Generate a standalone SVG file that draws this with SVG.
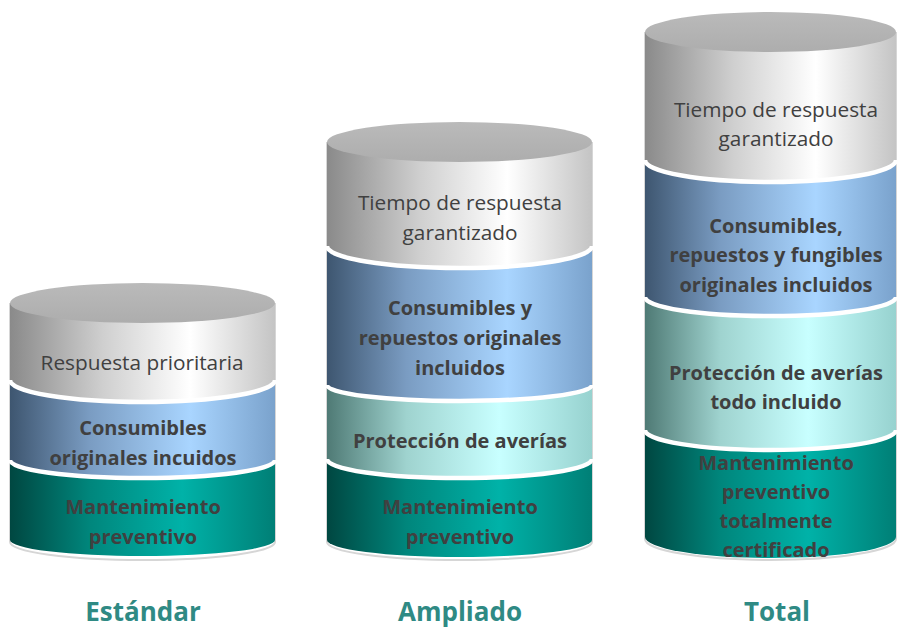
<svg xmlns="http://www.w3.org/2000/svg" width="898" height="628" viewBox="0 0 898 628">
<defs>
<linearGradient id="gGrey" x1="0" y1="0" x2="1" y2="0">
<stop offset="0" stop-color="#8a8a8a"/><stop offset="0.35" stop-color="#cfcfcf"/><stop offset="0.68" stop-color="#ffffff"/><stop offset="1" stop-color="#c4c4c4"/>
</linearGradient>
<linearGradient id="gBlue" x1="0" y1="0" x2="1" y2="0">
<stop offset="0" stop-color="#3e5670"/><stop offset="0.3" stop-color="#7a9cc2"/><stop offset="0.68" stop-color="#a9d5ff"/><stop offset="1" stop-color="#7aa2cc"/>
</linearGradient>
<linearGradient id="gAqua" x1="0" y1="0" x2="1" y2="0">
<stop offset="0" stop-color="#4f7a75"/><stop offset="0.3" stop-color="#9fd3cf"/><stop offset="0.65" stop-color="#c8ffff"/><stop offset="1" stop-color="#97d2cf"/>
</linearGradient>
<linearGradient id="gTeal" x1="0" y1="0" x2="1" y2="0">
<stop offset="0" stop-color="#004741"/><stop offset="0.3" stop-color="#00867c"/><stop offset="0.65" stop-color="#00b2a8"/><stop offset="1" stop-color="#007f76"/>
</linearGradient>
<linearGradient id="gTop" x1="0" y1="0" x2="0" y2="1">
<stop offset="0" stop-color="#bababa"/><stop offset="1" stop-color="#adadad"/>
</linearGradient>
<style>
.sep{stroke:#ffffff;stroke-width:4.5;fill:none}
.rim{fill:none;stroke:#d6d6d6;stroke-width:2}
.t{font-family:"Open Sans","Liberation Sans",sans-serif;text-anchor:middle;fill:#404040}
.n{font-size:20.8px;font-weight:400}
.b{font-size:20px;font-weight:700}
.lbl{font-family:"Open Sans","Liberation Sans",sans-serif;text-anchor:middle;font-size:26px;font-weight:700;fill:#2f8a84}
</style>
</defs>

<g id="estandar">
<path class="rim" d="M10,303 L10,542 A132.5,18 0 0 0 275,542 L275,303"/>
<g id="estandar-mantenimiento">
<path d="M10,462 L10,540 A132.5,16 0 0 0 275,540 L275,462 Z" fill="url(#gTeal)"/>
<text class="t b" x="143" y="514">Mantenimiento</text>
<text class="t b" x="143" y="544">preventivo</text>
</g>
<g id="estandar-consumibles">
<path d="M10,382 L10,460 A132.5,18 0 0 0 275,460 L275,382 Z" fill="url(#gBlue)"/>
<path class="sep" d="M10,460 A132.5,18 0 0 0 275,460"/>
<text class="t b" x="143" y="435">Consumibles</text>
<text class="t b" x="143" y="465">originales incuidos</text>
</g>
<g id="estandar-respuesta">
<path d="M10,303 L10,380 A132.5,22 0 0 0 275,380 L275,303 Z" fill="url(#gGrey)"/>
<path class="sep" d="M10,380 A132.5,22 0 0 0 275,380"/>
<ellipse cx="142.5" cy="303" rx="132.5" ry="20" fill="url(#gTop)"/>
<text class="t n" x="142" y="370">Respuesta prioritaria</text>
</g>
<text class="lbl" x="143" y="621">Estándar</text>
</g>

<g id="ampliado">
<path class="rim" d="M327,142 L327,542 A132.5,18 0 0 0 592,542 L592,142"/>
<g id="ampliado-mantenimiento">
<path d="M327,461 L327,540 A132.5,17 0 0 0 592,540 L592,461 Z" fill="url(#gTeal)"/>
<text class="t b" x="460" y="514">Mantenimiento</text>
<text class="t b" x="460" y="544">preventivo</text>
</g>
<g id="ampliado-proteccion">
<path d="M327,387 L327,459 A132.5,19 0 0 0 592,459 L592,387 Z" fill="url(#gAqua)"/>
<path class="sep" d="M327,459 A132.5,19 0 0 0 592,459"/>
<text class="t b" x="460" y="448">Protección de averías</text>
</g>
<g id="ampliado-consumibles">
<path d="M327,248 L327,385 A132.5,16 0 0 0 592,385 L592,248 Z" fill="url(#gBlue)"/>
<path class="sep" d="M327,385 A132.5,16 0 0 0 592,385"/>
<text class="t b" x="460" y="315">Consumibles y</text>
<text class="t b" x="460" y="345">repuestos originales</text>
<text class="t b" x="460" y="375">incluidos</text>
</g>
<g id="ampliado-tiempo">
<path d="M327,142 L327,246 A132.5,22 0 0 0 592,246 L592,142 Z" fill="url(#gGrey)"/>
<path class="sep" d="M327,246 A132.5,22 0 0 0 592,246"/>
<ellipse cx="459.5" cy="142" rx="132.5" ry="20" fill="url(#gTop)"/>
<text class="t n" x="460" y="210">Tiempo de respuesta</text>
<text class="t n" x="460" y="240">garantizado</text>
</g>
<text class="lbl" x="460" y="621">Ampliado</text>
</g>

<g id="total">
<path class="rim" d="M645,32 L645,539 A125.5,21 0 0 0 896,539 L896,32"/>
<g id="total-mantenimiento">
<path d="M645,432 L645,537 A125.5,21 0 0 0 896,537 L896,432 Z" fill="url(#gTeal)"/>
<text class="t b" x="776" y="470">Mantenimiento</text>
<text class="t b" x="776" y="499">preventivo</text>
<text class="t b" x="776" y="528">totalmente</text>
<text class="t b" x="776" y="557">certificado</text>
</g>
<g id="total-proteccion">
<path d="M645,299 L645,430 A125.5,20 0 0 0 896,430 L896,299 Z" fill="url(#gAqua)"/>
<path class="sep" d="M645,430 A125.5,20 0 0 0 896,430"/>
<text class="t b" x="776" y="380">Protección de averías</text>
<text class="t b" x="776" y="409">todo incluido</text>
</g>
<g id="total-consumibles">
<path d="M645,162 L645,297 A125.5,19 0 0 0 896,297 L896,162 Z" fill="url(#gBlue)"/>
<path class="sep" d="M645,297 A125.5,19 0 0 0 896,297"/>
<text class="t b" x="776" y="233">Consumibles,</text>
<text class="t b" x="776" y="262">repuestos y fungibles</text>
<text class="t b" x="776" y="292">originales incluidos</text>
</g>
<g id="total-tiempo">
<path d="M645,32 L645,160 A125.5,22 0 0 0 896,160 L896,32 Z" fill="url(#gGrey)"/>
<path class="sep" d="M645,160 A125.5,22 0 0 0 896,160"/>
<ellipse cx="770.5" cy="32" rx="125.5" ry="20" fill="url(#gTop)"/>
<text class="t n" x="776" y="117">Tiempo de respuesta</text>
<text class="t n" x="776" y="146">garantizado</text>
</g>
<text class="lbl" x="777" y="621">Total</text>
</g>
</svg>
